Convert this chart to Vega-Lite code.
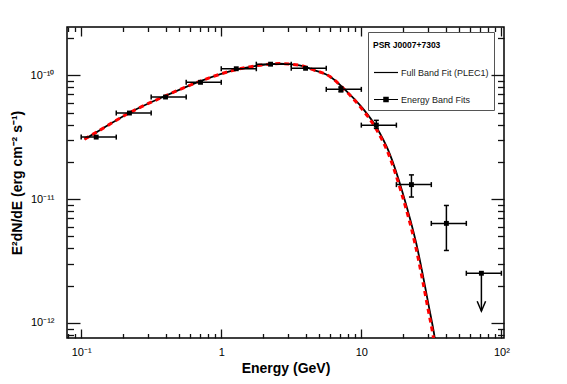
{
  "$schema": "https://vega.github.io/schema/vega-lite/v6.json",
  "width": 437,
  "height": 311,
  "autosize": {"type": "none"},
  "padding": {"left": 67, "top": 27, "right": 63, "bottom": 46},
  "background": "white",
  "config": {
    "view": {"stroke": "black", "strokeWidth": 1.5},
    "font": "Liberation Sans",
    "axis": {"labelFont": "Liberation Sans", "titleFont": "Liberation Sans", "grid": false, "domain": false, "labelFlush": false, "labelOverlap": false, "labelColor": "black", "titleColor": "black"}
  },
  "datasets": {
    "curve": [
      {"E": 0.1056, "F": 3.05e-11, "model": "full"},
      {"E": 0.128, "F": 3.46e-11, "model": "full"},
      {"E": 0.2213, "F": 4.99e-11, "model": "full"},
      {"E": 0.4, "F": 6.83e-11, "model": "full"},
      {"E": 0.711, "F": 8.99e-11, "model": "full"},
      {"E": 1.28, "F": 1.112e-10, "model": "full"},
      {"E": 1.877, "F": 1.205e-10, "model": "full"},
      {"E": 2.609, "F": 1.243e-10, "model": "full"},
      {"E": 3.625, "F": 1.205e-10, "model": "full"},
      {"E": 4.638, "F": 1.098e-10, "model": "full"},
      {"E": 5.937, "F": 9.82e-11, "model": "full"},
      {"E": 7.603, "F": 7.7e-11, "model": "full"},
      {"E": 10.27, "F": 5.38e-11, "model": "full"},
      {"E": 12.79, "F": 3.82e-11, "model": "full"},
      {"E": 15.93, "F": 2.33e-11, "model": "full"},
      {"E": 19.82, "F": 1.107e-11, "model": "full"},
      {"E": 24.71, "F": 4.36e-12, "model": "full"},
      {"E": 30.75, "F": 1.26e-12, "model": "full"},
      {"E": 33.39, "F": 7.66e-13, "model": "full"},
      {"E": 34.6, "F": 5.8e-13, "model": "full"},
      {"E": 0.1056, "F": 3.05e-11, "model": "alt"},
      {"E": 0.128, "F": 3.46e-11, "model": "alt"},
      {"E": 0.2213, "F": 4.99e-11, "model": "alt"},
      {"E": 0.4, "F": 6.83e-11, "model": "alt"},
      {"E": 0.711, "F": 8.99e-11, "model": "alt"},
      {"E": 1.28, "F": 1.112e-10, "model": "alt"},
      {"E": 1.877, "F": 1.205e-10, "model": "alt"},
      {"E": 2.609, "F": 1.243e-10, "model": "alt"},
      {"E": 3.625, "F": 1.205e-10, "model": "alt"},
      {"E": 4.638, "F": 1.098e-10, "model": "alt"},
      {"E": 5.937, "F": 9.82e-11, "model": "alt"},
      {"E": 7.55, "F": 7.7e-11, "model": "alt"},
      {"E": 10.06, "F": 5.38e-11, "model": "alt"},
      {"E": 12.53, "F": 3.82e-11, "model": "alt"},
      {"E": 15.61, "F": 2.33e-11, "model": "alt"},
      {"E": 19.42, "F": 1.107e-11, "model": "alt"},
      {"E": 24.2, "F": 4.36e-12, "model": "alt"},
      {"E": 30.1, "F": 1.26e-12, "model": "alt"},
      {"E": 32.7, "F": 7.66e-13, "model": "alt"},
      {"E": 33.9, "F": 5.8e-13, "model": "alt"}
    ],
    "bands": [
      {"E": 0.128, "F": 3.17e-11, "Elo": 0.1, "Ehi": 0.178, "Flo": null, "Fhi": null, "Ftip": null, "series": "Energy Band Fits"},
      {"E": 0.221, "F": 4.96e-11, "Elo": 0.178, "Ehi": 0.316, "Flo": null, "Fhi": null, "Ftip": null, "series": "Energy Band Fits"},
      {"E": 0.4, "F": 6.68e-11, "Elo": 0.316, "Ehi": 0.562, "Flo": null, "Fhi": null, "Ftip": null, "series": "Energy Band Fits"},
      {"E": 0.711, "F": 8.78e-11, "Elo": 0.562, "Ehi": 1.0, "Flo": null, "Fhi": null, "Ftip": null, "series": "Energy Band Fits"},
      {"E": 1.28, "F": 1.13e-10, "Elo": 1.0, "Ehi": 1.78, "Flo": null, "Fhi": null, "Ftip": null, "series": "Energy Band Fits"},
      {"E": 2.25, "F": 1.23e-10, "Elo": 1.78, "Ehi": 3.16, "Flo": null, "Fhi": null, "Ftip": null, "series": "Energy Band Fits"},
      {"E": 4.0, "F": 1.14e-10, "Elo": 3.16, "Ehi": 5.62, "Flo": null, "Fhi": null, "Ftip": null, "series": "Energy Band Fits"},
      {"E": 7.15, "F": 7.7e-11, "Elo": 5.62, "Ehi": 10.0, "Flo": 7.35e-11, "Fhi": 8.07e-11, "Ftip": null, "series": "Energy Band Fits"},
      {"E": 12.8, "F": 3.96e-11, "Elo": 10.0, "Ehi": 17.8, "Flo": 3.73e-11, "Fhi": 4.33e-11, "Ftip": null, "series": "Energy Band Fits"},
      {"E": 22.8, "F": 1.31e-11, "Elo": 17.8, "Ehi": 31.6, "Flo": 1.04e-11, "Fhi": 1.57e-11, "Ftip": null, "series": "Energy Band Fits"},
      {"E": 40.5, "F": 6.37e-12, "Elo": 31.6, "Ehi": 56.2, "Flo": 3.85e-12, "Fhi": 8.89e-12, "Ftip": null, "series": "Energy Band Fits"},
      {"E": 72.0, "F": 2.52e-12, "Elo": 56.2, "Ehi": 100.0, "Flo": null, "Fhi": null, "Ftip": 1.245e-12, "series": "Energy Band Fits"}
    ]
  },
  "resolve": {"axis": {"x": "independent", "y": "independent"}},
  "layer": [
    {
      "data": {"name": "curve"},
      "transform": [{"filter": "datum.model == 'full'"}],
      "mark": {"type": "line", "color": "black", "strokeWidth": 1.8, "interpolate": "monotone", "clip": true},
      "encoding": {
        "x": {"field": "E", "type": "quantitative", "scale": {"type": "log", "domain": [0.0792, 104.4]},
          "axis": {"orient": "bottom", "values": [0.1, 1, 10, 100], "zindex": 1, "ticks": true, "tickColor": "#111111", "tickWidth": 1.3, "offset": -9, "tickSize": 9, "labelPadding": 8, "labelFontSize": 11,
            "labelExpr": "datum.value < 0.5 ? '10⁻¹' : datum.value < 5 ? '1' : datum.value < 50 ? '10' : '10²'",
            "title": "Energy (GeV)", "titleFontSize": 14, "titleFontWeight": "bold", "titlePadding": 4}},
        "y": {"field": "F", "type": "quantitative", "scale": {"type": "log", "domain": [7.56e-13, 2.456e-10]},
          "axis": {"orient": "left", "values": [1e-12, 1e-11, 1e-10], "zindex": 1, "ticks": true, "tickColor": "#111111", "tickWidth": 1.3, "offset": -13, "tickSize": 13, "labelPadding": 13, "labelFontSize": 11,
            "labelExpr": "datum.value < 5e-12 ? '10⁻¹²' : datum.value < 5e-11 ? '10⁻¹¹' : '10⁻¹⁰'",
            "title": "E²dN/dE (erg cm⁻² s⁻¹)", "titleFontSize": 14, "titleFontWeight": "bold", "titlePadding": 6}}
      }
    },
    {
      "data": {"name": "curve"},
      "transform": [{"filter": "datum.model == 'alt'"}],
      "mark": {"type": "line", "color": "#ff0000", "strokeWidth": 3, "strokeDash": [5, 4], "interpolate": "monotone", "clip": true},
      "encoding": {
        "x": {"field": "E", "type": "quantitative", "scale": {"type": "log", "domain": [0.0792, 104.4]},
          "axis": {"orient": "bottom", "values": [0.08, 0.09, 0.2, 0.3, 0.4, 0.5, 0.6, 0.7, 0.8, 0.9, 2, 3, 4, 5, 6, 7, 8, 9, 20, 30, 40, 50, 60, 70, 80, 90], "zindex": 1, "ticks": true, "tickColor": "#111111", "tickWidth": 1.3, "offset": -4.5, "tickSize": 4.5, "labels": false, "title": null}},
        "y": {"field": "F", "type": "quantitative", "scale": {"type": "log", "domain": [7.56e-13, 2.456e-10]},
          "axis": {"orient": "left", "values": [8e-13, 9e-13, 2e-12, 3e-12, 4e-12, 5e-12, 6e-12, 7e-12, 8e-12, 9e-12, 2e-11, 3e-11, 4e-11, 5e-11, 6e-11, 7e-11, 8e-11, 9e-11, 2e-10], "zindex": 1, "ticks": true, "tickColor": "#111111", "tickWidth": 1.3, "offset": -6.5, "tickSize": 6.5, "labels": false, "title": null}}
      }
    },
    {
      "data": {"name": "bands"},
      "mark": {"type": "rule", "color": "black", "strokeWidth": 1.5},
      "encoding": {
        "x": {"field": "Elo", "type": "quantitative", "scale": {"type": "log", "domain": [0.0792, 104.4]},
          "axis": {"orient": "top", "values": [0.1, 1, 10, 100], "zindex": 1, "ticks": true, "tickColor": "#111111", "tickWidth": 1.3, "offset": -9, "tickSize": 9, "labels": false, "title": null}},
        "x2": {"field": "Ehi"},
        "y": {"field": "F", "type": "quantitative", "scale": {"type": "log", "domain": [7.56e-13, 2.456e-10]},
          "axis": {"orient": "right", "values": [1e-12, 1e-11, 1e-10], "zindex": 1, "ticks": true, "tickColor": "#111111", "tickWidth": 1.3, "offset": -13, "tickSize": 13, "labels": false, "title": null}}
      }
    },
    {
      "data": {"name": "bands"},
      "transform": [{"filter": "datum.Flo != null"}],
      "mark": {"type": "rule", "color": "black", "strokeWidth": 1.5},
      "encoding": {
        "x": {"field": "E", "type": "quantitative", "scale": {"type": "log", "domain": [0.0792, 104.4]},
          "axis": {"orient": "top", "values": [0.08, 0.09, 0.2, 0.3, 0.4, 0.5, 0.6, 0.7, 0.8, 0.9, 2, 3, 4, 5, 6, 7, 8, 9, 20, 30, 40, 50, 60, 70, 80, 90], "zindex": 1, "ticks": true, "tickColor": "#111111", "tickWidth": 1.3, "offset": -4.5, "tickSize": 4.5, "labels": false, "title": null}},
        "y": {"field": "Flo", "type": "quantitative", "scale": {"type": "log", "domain": [7.56e-13, 2.456e-10]},
          "axis": {"orient": "right", "values": [8e-13, 9e-13, 2e-12, 3e-12, 4e-12, 5e-12, 6e-12, 7e-12, 8e-12, 9e-12, 2e-11, 3e-11, 4e-11, 5e-11, 6e-11, 7e-11, 8e-11, 9e-11, 2e-10], "zindex": 1, "ticks": true, "tickColor": "#111111", "tickWidth": 1.3, "offset": -6.5, "tickSize": 6.5, "labels": false, "title": null}},
        "y2": {"field": "Fhi"}
      }
    },
    {
      "data": {"name": "bands"},
      "mark": {"type": "rule", "color": "black", "strokeWidth": 1.5, "yOffset": -2.5, "y2Offset": 2.5},
      "encoding": {
        "x": {"field": "Elo", "type": "quantitative", "scale": {"type": "log", "domain": [0.0792, 104.4]}, "axis": null},
        "y": {"field": "F", "type": "quantitative", "scale": {"type": "log", "domain": [7.56e-13, 2.456e-10]}, "axis": null},
        "y2": {"field": "F"}
      }
    },
    {
      "data": {"name": "bands"},
      "mark": {"type": "rule", "color": "black", "strokeWidth": 1.5, "yOffset": -2.5, "y2Offset": 2.5},
      "encoding": {
        "x": {"field": "Ehi", "type": "quantitative", "scale": {"type": "log", "domain": [0.0792, 104.4]}, "axis": null},
        "y": {"field": "F", "type": "quantitative", "scale": {"type": "log", "domain": [7.56e-13, 2.456e-10]}, "axis": null},
        "y2": {"field": "F"}
      }
    },
    {
      "data": {"name": "bands"},
      "transform": [{"filter": "datum.Flo != null"}],
      "mark": {"type": "rule", "color": "black", "strokeWidth": 1.5, "xOffset": -2.5, "x2Offset": 2.5},
      "encoding": {
        "x": {"field": "E", "type": "quantitative", "scale": {"type": "log", "domain": [0.0792, 104.4]}, "axis": null},
        "x2": {"field": "E"},
        "y": {"field": "Flo", "type": "quantitative", "scale": {"type": "log", "domain": [7.56e-13, 2.456e-10]}, "axis": null}
      }
    },
    {
      "data": {"name": "bands"},
      "transform": [{"filter": "datum.Fhi != null"}],
      "mark": {"type": "rule", "color": "black", "strokeWidth": 1.5, "xOffset": -2.5, "x2Offset": 2.5},
      "encoding": {
        "x": {"field": "E", "type": "quantitative", "scale": {"type": "log", "domain": [0.0792, 104.4]}, "axis": null},
        "x2": {"field": "E"},
        "y": {"field": "Fhi", "type": "quantitative", "scale": {"type": "log", "domain": [7.56e-13, 2.456e-10]}, "axis": null}
      }
    },
    {
      "data": {"name": "bands"},
      "mark": {"type": "point", "shape": "square", "filled": true, "color": "black", "size": 24, "opacity": 1},
      "encoding": {
        "x": {"field": "E", "type": "quantitative", "scale": {"type": "log", "domain": [0.0792, 104.4]}, "axis": null},
        "y": {"field": "F", "type": "quantitative", "scale": {"type": "log", "domain": [7.56e-13, 2.456e-10]}, "axis": null}
      }
    },
    {
      "data": {"name": "bands"},
      "transform": [{"filter": "datum.Ftip != null"}],
      "mark": {"type": "rule", "color": "black", "strokeWidth": 1.5},
      "encoding": {
        "x": {"field": "E", "type": "quantitative", "scale": {"type": "log", "domain": [0.0792, 104.4]}, "axis": null},
        "y": {"field": "F", "type": "quantitative", "scale": {"type": "log", "domain": [7.56e-13, 2.456e-10]}, "axis": null},
        "y2": {"field": "Ftip"}
      }
    },
    {
      "data": {"name": "bands"},
      "transform": [{"filter": "datum.Ftip != null"}],
      "mark": {"type": "point", "shape": "M-0.42,-1L0,0L0.42,-1", "size": 400, "filled": false, "color": "black", "strokeWidth": 1.5, "opacity": 1},
      "encoding": {
        "x": {"field": "E", "type": "quantitative", "scale": {"type": "log", "domain": [0.0792, 104.4]}, "axis": null},
        "y": {"field": "Ftip", "type": "quantitative", "scale": {"type": "log", "domain": [7.56e-13, 2.456e-10]}, "axis": null}
      }
    },
    {
      "data": {"name": "bands"},
      "mark": {"type": "point", "filled": false, "color": "black", "strokeWidth": 1.2, "opacity": 0},
      "encoding": {
        "x": {"field": "E", "type": "quantitative", "scale": {"type": "log", "domain": [0.0792, 104.4]}, "axis": null},
        "y": {"field": "F", "type": "quantitative", "scale": {"type": "log", "domain": [7.56e-13, 2.456e-10]}, "axis": null},
        "shape": {"field": "series", "type": "nominal",
          "scale": {"domain": ["Full Band Fit (PLEC1)", "Energy Band Fits"], "range": ["M-1,0H1", "M-1,0H1M-0.18,-0.22V0.22M-0.09,-0.22V0.22M0,-0.22V0.22M0.09,-0.22V0.22M0.18,-0.22V0.22"]},
          "legend": {"title": "PSR J0007+7303", "orient": "none", "legendX": 301, "legendY": 5,
            "padding": 5, "strokeColor": "#555555", "fillColor": "white",
            "titleFont": "Liberation Sans", "titleFontSize": 8.5, "titleFontWeight": "bold", "titleColor": "black",
            "titleBaseline": "line-top", "titleLineHeight": 18, "titlePadding": 14,
            "labelFont": "Liberation Sans", "labelFontSize": 9, "labelColor": "#222222", "labelOffset": 2,
            "symbolSize": 576, "symbolStrokeWidth": 1.2, "symbolStrokeColor": "black", "symbolOpacity": 1,
            "rowPadding": 9}}
      }
    }
  ]
}
